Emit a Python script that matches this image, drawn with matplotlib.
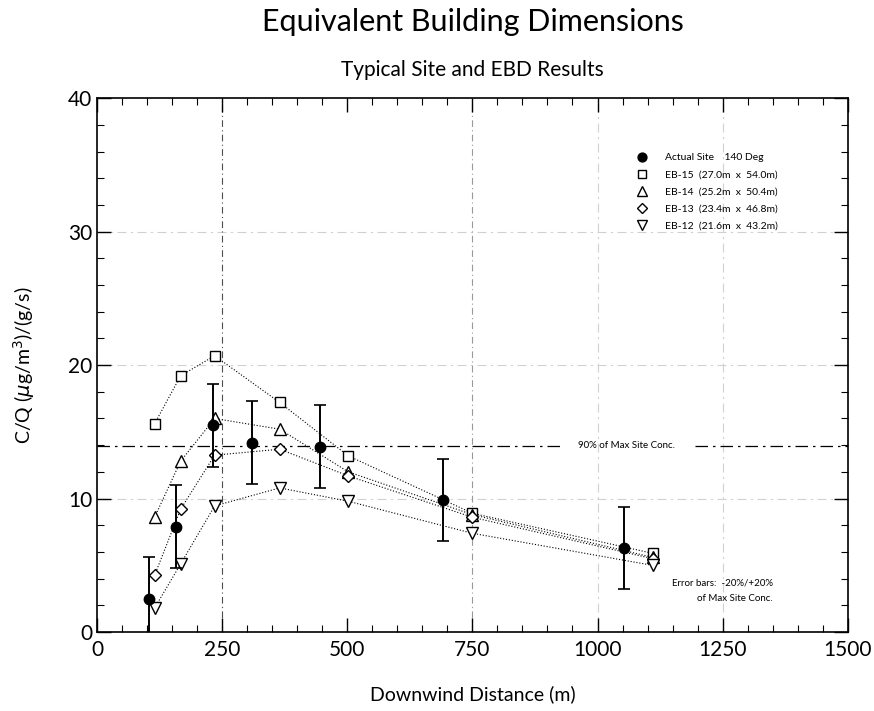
import matplotlib
matplotlib.use("Agg")
import matplotlib.pyplot as plt
from matplotlib.ticker import MultipleLocator

plt.rcParams['font.family'] = ['Lato', 'DejaVu Sans']

# actual site measurements (filled circles with error bars)
site_x = [104, 158, 232, 309, 446, 692, 1052]
site_y = [2.5, 7.9, 15.5, 14.2, 13.9, 9.9, 6.3]
err_pct = 0.20
max_site = max(site_y)
err = err_pct * max_site

# equivalent building dimension runs
eb_x = [115, 167, 235, 365, 502, 750, 1110]
eb15 = [15.6, 19.2, 20.7, 17.2, 13.2, 8.9, 5.9]
eb14 = [8.6, 12.8, 16.0, 15.2, 12.0, 8.8, 5.6]
eb13 = [4.25, 9.2, 13.25, 13.7, 11.7, 8.6, 5.5]
eb12 = [1.8, 5.1, 9.45, 10.8, 9.8, 7.4, 5.0]

fig = plt.figure(figsize=(8.74, 7.11), dpi=100)
ax = fig.add_axes([0.111, 0.111, 0.859, 0.751])

# faint grid
for gy in [10, 20, 30]:
    ax.axhline(gy, color='0.82', lw=0.8, ls=(0, (8, 4, 2, 4)), zorder=0)
for gx in [1000, 1250]:
    ax.axvline(gx, color='0.82', lw=0.8, ls=(0, (8, 4, 2, 4)), zorder=0)
ax.axvline(250, color='0.3', lw=0.8, ls=(0, (6, 3, 1, 3)), zorder=0)
ax.axvline(750, color='0.6', lw=0.8, ls=(0, (6, 3, 1, 3)), zorder=0)

# 90% of max site conc line
c90 = 0.9 * max_site
ax.axhline(c90, xmin=0, xmax=0.62, color='k', lw=0.9, ls=(0, (10, 4, 2, 4)), zorder=1)
ax.axhline(c90, xmin=0.797, xmax=1, color='k', lw=0.9, ls=(0, (10, 4, 2, 4)), zorder=1)
ax.text(1057, c90, '90% of Max Site Conc.', fontsize=7, ha='center', va='center')

h0 = ax.errorbar(site_x, site_y, yerr=err, fmt='o', color='k', ms=7.5, capsize=4,
                 elinewidth=1.4, capthick=1.2, zorder=4)
h1, = ax.plot(eb_x, eb15, ls=':', color='k', lw=0.8, marker='s', mfc='white', mec='k', ms=7, zorder=3)
h2, = ax.plot(eb_x, eb14, ls=':', color='k', lw=0.8, marker='^', mfc='white', mec='k', ms=8, zorder=3)
h3, = ax.plot(eb_x, eb13, ls=':', color='k', lw=0.8, marker='D', mfc='white', mec='k', ms=6, zorder=3)
h4, = ax.plot(eb_x, eb12, ls=':', color='k', lw=0.8, marker='v', mfc='white', mec='k', ms=8, zorder=3)

labels = ['Actual Site    140 Deg',
          'EB-15  (27.0m  x  54.0m)',
          'EB-14  (25.2m  x  50.4m)',
          'EB-13  (23.4m  x  46.8m)',
          'EB-12  (21.6m  x  43.2m)']

ax.text(1350, 3.66, 'Error bars:  -20%/+20%', fontsize=7, ha='right', va='center')
ax.text(1350, 2.5, 'of Max Site Conc.', fontsize=7, ha='right', va='center')

leg = ax.legend([h0[0], h1, h2, h3, h4], labels, loc='upper left',
                bbox_to_anchor=(0.705, 0.915), frameon=False, markerscale=0.85,
                fontsize=7.5, handlelength=1.2, handletextpad=1.6, labelspacing=0.75)
for h in leg.legend_handles:
    h.set_linestyle('None')

ax.set_xlim(0, 1500)
ax.set_ylim(0, 40)
ax.xaxis.set_major_locator(MultipleLocator(250))
ax.xaxis.set_minor_locator(MultipleLocator(50))
ax.yaxis.set_major_locator(MultipleLocator(10))
ax.yaxis.set_minor_locator(MultipleLocator(2))
ax.tick_params(which='both', direction='in', top=True, right=True, labelsize=15)
ax.tick_params(which='major', length=10, width=1)
ax.tick_params(which='minor', length=5, width=0.8)
ax.tick_params(axis='x', pad=6)
for s in ax.spines.values():
    s.set_linewidth(1.2)

ax.set_xlabel('Downwind Distance (m)', fontsize=14, labelpad=18)
ax.set_ylabel(r'C/Q ($\mu$g/m$^3$)/(g/s)', fontsize=14, labelpad=22)

fig.text(0.541, 0.969, 'Equivalent Building Dimensions', fontsize=22, ha='center', va='center')
fig.text(0.541, 0.902, 'Typical Site and EBD Results', fontsize=15, ha='center', va='center')

fig.savefig('out.png', dpi=100)
